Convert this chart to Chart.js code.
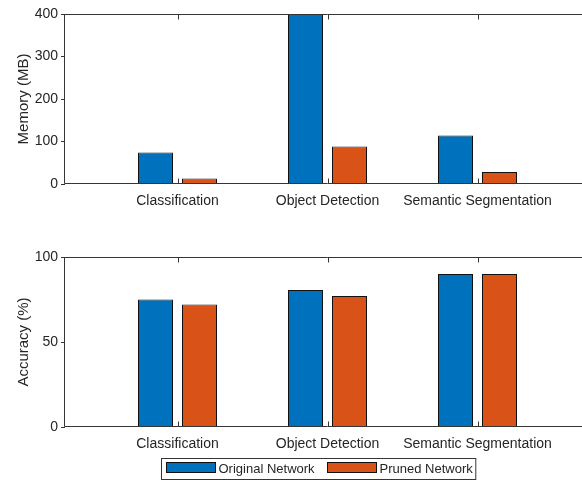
<!DOCTYPE html>
<html>
<head>
<meta charset="utf-8">
<script src="https://cdn.jsdelivr.net/npm/chart.js@4/dist/chart.umd.min.js"></script>
<style>
  html, body { margin: 0; padding: 0; background: #fff; overflow: hidden; width: 582px; height: 480px; }
  .panel { position: absolute; left: 0; width: 640px; height: 240px; }
  #memPanel { top: 0; }
  #accPanel { top: 240px; }
</style>
</head>
<body>
<div class="panel" id="memPanel"><canvas id="memChart" width="640" height="240"></canvas></div>
<div class="panel" id="accPanel"><canvas id="accChart" width="640" height="240"></canvas></div>
<script>
// Task categories and the two network variants
const tasks = ['Classification', 'Object Detection', 'Semantic Segmentation'];
const seriesNames = ['Original Network', 'Pruned Network'];

// Memory footprint (MB)
const memoryOriginal = [74, 450, 114];
const memoryPruned = [13, 88, 28];
const memoryTicks = [0, 100, 200, 300, 400];

// Accuracy (%)
const accuracyOriginal = [75, 80.6, 90];
const accuracyPruned = [72, 77, 90];
const accuracyTicks = [0, 50, 100];

const FONT = 'Liberation Sans, Arial, Helvetica, sans-serif';
const AXIS_COLOR = '#353535';
const TEXT_COLOR = '#262626';
const COLORS = ['#0072BD', '#D95319'];

// Box around the axes plus inward x tick marks at top and bottom
const axesFrame = {
  id: 'axesFrame',
  afterDatasetsDraw(chart) {
    const { ctx, chartArea: a, scales: { x } } = chart;
    const l = Math.round(a.left) - 0.5, t = Math.round(a.top) + 0.5;
    const r = Math.round(a.right) + 0.5, b = Math.round(a.bottom) - 0.5;
    ctx.save();
    ctx.strokeStyle = AXIS_COLOR;
    ctx.lineWidth = 1;
    ctx.beginPath();
    ctx.rect(l, t, r - l, b - t);
    x.ticks.forEach(tk => {
      const px = Math.round(x.getPixelForValue(tk.value)) + 0.5;
      ctx.moveTo(px, t); ctx.lineTo(px, t + 5);
      ctx.moveTo(px, b); ctx.lineTo(px, b - 5);
    });
    ctx.stroke();
    ctx.restore();
  }
};

// Framed legend below the lower axes
const framedLegend = {
  id: 'framedLegend',
  afterDraw(chart, args, opts) {
    if (!opts.show) return;
    const { ctx, chartArea: a } = chart;
    const ds = chart.data.datasets;
    ctx.save();
    ctx.font = '13px ' + FONT;
    const sw = 49, sh = 10, gapText = 3, gapItem = 12, padL = 4, padR = 5, h = 21;
    const widths = ds.map(d => ctx.measureText(d.label).width);
    const total = padL + ds.length * (sw + gapText) + widths.reduce((s, w) => s + w, 0) + gapItem * (ds.length - 1) + padR;
    const left = Math.round(opts.centerX - total / 2) + 0.5;
    const top = Math.round(a.bottom + opts.offsetY) + 0.5;
    ctx.fillStyle = '#fff';
    ctx.fillRect(left, top, total, h);
    ctx.strokeStyle = AXIS_COLOR;
    ctx.lineWidth = 1;
    ctx.strokeRect(left, top, total, h);
    let cx = Math.round(left + padL) + 0.5;
    ds.forEach((d, i) => {
      ctx.fillStyle = d.backgroundColor;
      ctx.fillRect(cx, top + 4, sw, sh);
      ctx.strokeStyle = '#111';
      ctx.strokeRect(cx, top + 4, sw, sh);
      cx += sw + gapText;
      ctx.fillStyle = TEXT_COLOR;
      ctx.textBaseline = 'middle';
      ctx.textAlign = 'left';
      ctx.fillText(d.label, cx, top + h / 2 + 0.5);
      cx = Math.round(cx + widths[i] + gapItem) + 0.5;
    });
    ctx.restore();
  }
};

function makeChart(id, original, pruned, yTitle, yTicks, padTop, padBottom, showLegend) {
  const toPoints = arr => arr.map((v, i) => ({ x: i + 1, y: v }));
  return new Chart(document.getElementById(id), {
    type: 'bar',
    data: {
      datasets: [original, pruned].map((vals, k) => ({
        label: seriesNames[k],
        data: toPoints(vals),
        backgroundColor: COLORS[k],
        borderColor: '#111',
        borderWidth: 1,
        categoryPercentage: 88 / 150,
        barPercentage: 35 / 44
      }))
    },
    options: {
      responsive: false,
      animation: false,
      devicePixelRatio: 1,
      layout: { padding: { top: padTop, bottom: padBottom, left: 0, right: 50 } },
      scales: {
        x: {
          type: 'linear',
          min: 0.25,
          max: 3.75,
          offset: false,
          grid: { display: false },
          border: { display: false },
          afterBuildTicks: s => { s.ticks = tasks.map((_, i) => ({ value: i + 1 })); },
          afterFit: s => { s.height = 31; },
          ticks: {
            autoSkip: false,
            maxRotation: 0,
            padding: 1,
            color: TEXT_COLOR,
            font: { family: FONT, size: 14 },
            callback: v => tasks[v - 1] ?? ''
          }
        },
        y: {
          min: yTicks[0],
          max: yTicks[yTicks.length - 1],
          afterBuildTicks: s => { s.ticks = yTicks.map(v => ({ value: v })); },
          afterFit: s => { s.width = 65; },
          grid: { drawOnChartArea: false, tickLength: 4, color: AXIS_COLOR },
          border: { display: false },
          ticks: { padding: 3, color: TEXT_COLOR, font: { family: FONT, size: 14 } },
          title: {
            display: true,
            text: yTitle,
            color: TEXT_COLOR,
            font: { family: FONT, size: 15 },
            padding: { top: 15, bottom: 0 }
          }
        }
      },
      plugins: {
        legend: { display: false },
        tooltip: { enabled: false },
        framedLegend: { show: showLegend, centerX: 318.5, offsetY: 31 }
      }
    },
    plugins: [axesFrame, framedLegend]
  });
}

makeChart('memChart', memoryOriginal, memoryPruned, 'Memory (MB)', memoryTicks, 14, 25, false);
makeChart('accChart', accuracyOriginal, accuracyPruned, 'Accuracy (%)', accuracyTicks, 17, 22, true);
</script>
</body>
</html>
